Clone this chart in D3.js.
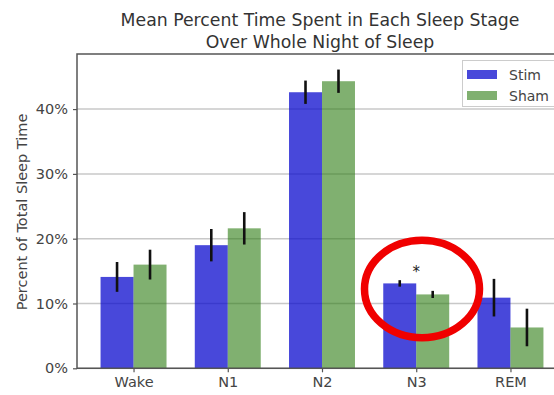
<!DOCTYPE html>
<html>
<head>
<meta charset="utf-8">
<script src="https://cdn.jsdelivr.net/npm/d3@7"></script>
<style>
  html, body { margin: 0; padding: 0; background: #fff; }
  svg { display: block; font-family: "DejaVu Sans", sans-serif; }
</style>
</head>
<body>
<svg id="chart" width="554" height="395"></svg>
<script>
// Sleep stages and mean percent of total sleep time per condition
const stages = ["Wake", "N1", "N2", "N3", "REM"];
const stimMean = [14.1, 19.0, 42.6, 13.1, 10.9];
const stimErr  = [2.3, 2.5, 1.8, 0.5, 2.9];
const shamMean = [16.0, 21.6, 44.3, 11.4, 6.3];
const shamErr  = [2.3, 2.5, 1.8, 0.55, 2.9];
const yTicks = [0, 10, 20, 30, 40];
const seriesNames = ["Stim", "Sham"];
const significant = ["N3"];

const svg = d3.select("#chart");
const plotL = 77, plotR = 567, plotT = 54, plotB = 368.3;
const barW = 0.35;

const x = d3.scaleLinear().domain([-0.6, 4.6]).range([plotL, plotR]);
const y = d3.scaleLinear().domain([0, 48.5]).range([plotB, plotT]);

const colors = { Stim: "rgb(11,11,205)", Sham: "rgb(43,123,17)" };
const opac = { Stim: 0.75, Sham: 0.6 };

// gridlines
svg.append("g").selectAll("line").data(yTicks).join("line")
  .attr("x1", plotL).attr("x2", plotR)
  .attr("y1", d => y(d)).attr("y2", d => y(d))
  .attr("stroke", "#c8c8c8").attr("stroke-width", 1.5);

// bars with error bars
const series = [
  { name: "Stim", mean: stimMean, err: stimErr, off: -barW },
  { name: "Sham", mean: shamMean, err: shamErr, off: 0 }
];
series.forEach(s => {
  const g = svg.append("g");
  g.selectAll("rect").data(stages).join("rect")
    .attr("x", (d, i) => x(i + s.off))
    .attr("width", x(barW) - x(0))
    .attr("y", (d, i) => y(s.mean[i]))
    .attr("height", (d, i) => y(0) - y(s.mean[i]))
    .attr("fill", colors[s.name]).attr("fill-opacity", opac[s.name]);
  g.selectAll("line").data(stages).join("line")
    .attr("x1", (d, i) => x(i + s.off + barW / 2))
    .attr("x2", (d, i) => x(i + s.off + barW / 2))
    .attr("y1", (d, i) => y(s.mean[i] - s.err[i]))
    .attr("y2", (d, i) => y(s.mean[i] + s.err[i]))
    .attr("stroke", "#111").attr("stroke-width", 2.6);
});

// significance marker
svg.append("g").selectAll("text").data(significant).join("text")
  .attr("x", d => x(stages.indexOf(d)))
  .attr("y", 277)
  .attr("text-anchor", "middle")
  .attr("font-size", 15).attr("fill", "#222")
  .text("*");

// frame
svg.append("rect").attr("x", plotL).attr("y", plotT)
  .attr("width", plotR - plotL).attr("height", plotB - plotT)
  .attr("fill", "none").attr("stroke", "#555").attr("stroke-width", 1.5);

// y axis
const yAxis = d3.axisLeft(y).tickValues(yTicks).tickFormat(d => d + "%").tickSize(4).tickPadding(5);
const ya = svg.append("g").attr("transform", `translate(${plotL},0)`).call(yAxis);
ya.select(".domain").remove();
ya.selectAll("line").attr("stroke", "#555").attr("stroke-width", 1.2);
ya.selectAll("text").attr("font-size", 14.5).attr("fill", "#444").attr("font-family", "DejaVu Sans");

// x axis
const xAxis = d3.axisBottom(x).tickValues(d3.range(stages.length)).tickFormat(i => stages[i]).tickSize(4).tickPadding(4);
const xa = svg.append("g").attr("transform", `translate(0,${plotB})`).call(xAxis);
xa.select(".domain").remove();
xa.selectAll("line").attr("stroke", "#555").attr("stroke-width", 1.2);
xa.selectAll("text").attr("font-size", 14.5).attr("fill", "#444").attr("font-family", "DejaVu Sans");

// y label
svg.append("text")
  .attr("transform", `translate(27,212) rotate(-90)`)
  .attr("text-anchor", "middle").attr("font-size", 14.5).attr("fill", "#444")
  .text("Percent of Total Sleep Time");

// title
const title = svg.append("text").attr("text-anchor", "middle").attr("font-size", 17.3).attr("fill", "#333");
title.append("tspan").attr("x", 320).attr("y", 25.5).text("Mean Percent Time Spent in Each Sleep Stage");
title.append("tspan").attr("x", 320).attr("y", 47.5).text("Over Whole Night of Sleep");

// legend
const lg = svg.append("g");
lg.append("rect").attr("x", 462.5).attr("y", 60.5).attr("width", 110).attr("height", 46)
  .attr("fill", "#fff").attr("stroke", "#ccc").attr("stroke-width", 1);
seriesNames.forEach((n, i) => {
  lg.append("rect").attr("x", 467).attr("y", 70 + i * 21).attr("width", 30).attr("height", 9)
    .attr("fill", colors[n]).attr("fill-opacity", opac[n]);
  lg.append("text").attr("x", 509).attr("y", 80 + i * 21).attr("font-size", 14).attr("fill", "#444").text(n);
});

// highlight ring
svg.append("ellipse").attr("cx", 422).attr("cy", 289).attr("rx", 57.5).attr("ry", 48.7)
  .attr("fill", "none").attr("stroke", "#f00000").attr("stroke-width", 7.5);
</script>
</body>
</html>
